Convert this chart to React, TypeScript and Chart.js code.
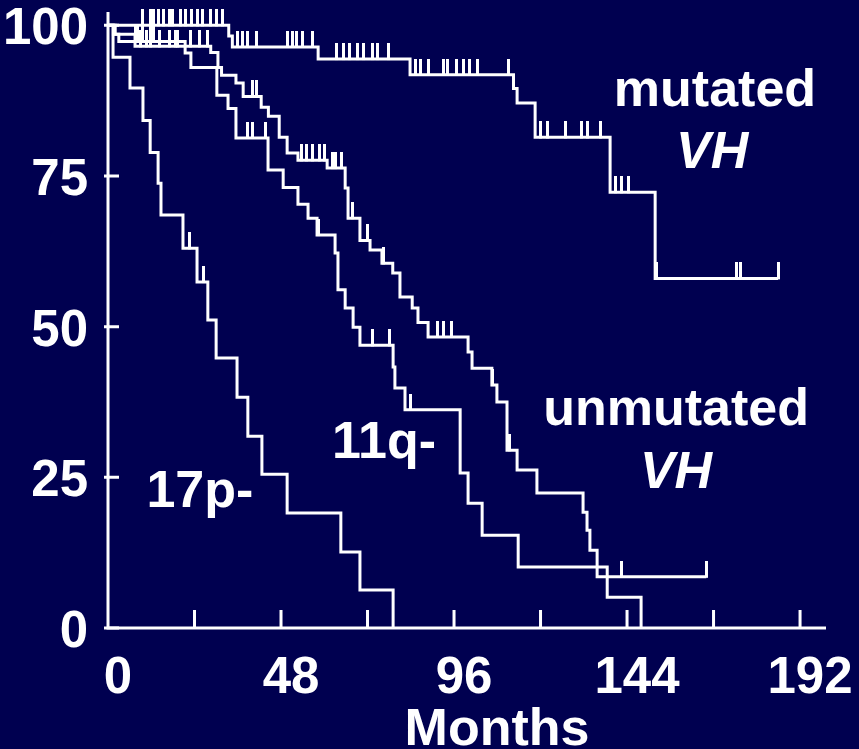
import { useEffect, useRef } from 'react';
import { Chart, registerables } from 'chart.js';

Chart.register(...registerables);

// ---- axis ticks ----
const xTickValues = [0, 24, 48, 72, 96, 120, 144, 168, 192];
const xTickLabels = ['0', '', '48', '', '96', '', '144', '', '192'];
const yTickValues = [0, 25, 50, 75, 100];
const yTickLabels = ['0', '25', '50', '75', '100'];
const xAxisTitle = 'Months';

// ---- mutated VH ----
const mutatedMonths = [0, 33.5, 34.5, 58.3, 83.8, 112.5, 113.5, 118.5, 139.3, 151.8, 185.9];
const mutatedSurvival = [100, 98.2, 96.4, 94.4, 91.8, 89.5, 87.1, 81.4, 72.3, 58.0, 58.0];
const mutatedCensored = [
  9.7, 11.7, 12.5, 13.9, 15.3, 17.2, 18.0, 20.0, 21.4, 23.3, 24.7, 26.1, 28.3, 30.2, 31.9,
  35.8, 37.2, 38.8, 41.3, 49.7, 51.1, 52.4, 54.1, 56.6,
  63.5, 65.2, 67.1, 69.1, 70.8, 73.3, 74.9, 77.7,
  85.2, 86.6, 88.8, 93.0, 94.1, 96.8, 98.5, 100.4, 102.4, 111.0,
  119.9, 121.8, 126.8, 131.5, 132.9, 136.5, 140.7, 142.6, 144.3,
  152.3, 174.5, 175.6, 185.9,
];

// ---- unmutated VH ----
const unmutatedMonths = [
  0, 2, 7.5, 28.5, 30.5, 31.5, 35.5, 37.5, 42.5, 44.5, 47.5, 49.7, 52.7, 60.8, 65.8, 66.6,
  69.9, 72.7, 76, 79, 81, 84.4, 86, 88.8, 99.9, 101, 106.5, 107.9, 110.7, 113.5, 119,
  131.8, 132.9, 133.7, 135.7, 166,
];
const unmutatedSurvival = [
  100, 98.5, 96.5, 95.5, 93, 91.7, 90.4, 88.2, 86.4, 84.9, 81.4, 78.8, 77.6, 76.3, 73, 68,
  64.3, 62.7, 60.5, 58.9, 54.9, 53.1, 50.7, 48.3, 45.8, 43.1, 40.3, 37.5, 29.5, 26.2, 22.4,
  19.2, 16.2, 12.9, 8.5, 8.5,
];
const unmutatedCensored = [
  8.9, 10.8, 11.7, 14.4, 17.2, 18.6, 19.4, 22.8, 25.5, 27.7, 40.2, 41.3, 53.8, 55.2, 56.6,
  58.8, 60.2, 62.2, 63.0, 64.9, 67.7, 71.9, 76.5, 91.3, 93.0, 95.4, 106.8, 111.5, 142.6, 166,
];

// ---- 11q- ----
const del11qMonths = [
  0, 1.5, 3, 21.4, 23, 30.2, 33.3, 35.5, 44.4, 48.6, 52.7, 55.5, 58, 63, 63.8, 65.8, 68,
  69.9, 79.1, 79.6, 82.4, 97.7, 99.9, 103.8, 113.8, 138.5, 147.9,
];
const del11qSurvival = [
  100, 98.5, 97.3, 95.4, 93, 88.4, 86.2, 81.3, 76, 73.1, 70.3, 68, 65.2, 62.2, 56.1, 53.1,
  49.9, 46.9, 43.3, 39.8, 36.2, 25.7, 20.7, 15.4, 10.1, 5.1, 0,
];
const del11qCensored = [7.5, 8.1, 9.7, 11.7, 12.5, 38.8, 40.2, 43.8, 58.5, 73.5, 78, 83.8];

// ---- 17p- ----
const del17pMonths = [
  0, 1.4, 6.1, 9.7, 11.7, 13.9, 14.7, 20.8, 24.7, 27.7, 30.0, 35.8, 38.8, 42.7, 49.7, 64.6,
  69.9, 79.1,
];
const del17pSurvival = [
  100, 94.7, 89.6, 84.2, 78.9, 73.8, 68.5, 63.0, 57.4, 51.1, 44.8, 38.3, 31.8, 25.5, 19.1,
  12.6, 6.3, 0,
];
const del17pCensored = [22.5, 26.6];

const seriesNames = ['mutated VH', 'unmutated VH', '11q-', '17p-'];

// ---- curve captions (text, data position) ----
const captions = [
  { text: 'mutated', x: 168.4, y: 86.6, italic: false },
  { text: 'VH', x: 167.6, y: 76.3, italic: true },
  { text: 'unmutated', x: 157.6, y: 33.7, italic: false },
  { text: 'VH', x: 157.6, y: 23.2, italic: true },
  { text: '11q-', x: 76.6, y: 28.2, italic: false },
  { text: '17p-', x: 25.5, y: 20.1, italic: false },
];

const BG = '#000050';
const FONT = '"Liberation Sans", Arial, Helvetica, sans-serif';

function survivalAt(months: number[], surv: number[], t: number) {
  let s = surv[0];
  for (let i = 0; i < months.length; i++) {
    if (months[i] <= t) s = surv[i];
    else break;
  }
  return s;
}

function makeTickImage() {
  const c = document.createElement('canvas');
  c.width = 3;
  c.height = 32;
  const g = c.getContext('2d')!;
  g.fillStyle = '#ffffff';
  g.fillRect(0, 0, 3, 17);
  return c;
}

const decorPlugin = {
  id: 'decor',
  afterDraw(chart: any) {
    const { ctx, chartArea, scales } = chart;
    const xs = scales.x;
    const ys = scales.y;
    ctx.save();
    ctx.strokeStyle = '#ffffff';
    ctx.lineWidth = 3;
    ctx.lineCap = 'butt';
    ctx.beginPath();
    ctx.moveTo(chartArea.left, chartArea.top);
    ctx.lineTo(chartArea.left, chartArea.bottom);
    ctx.lineTo(chartArea.right, chartArea.bottom);
    ctx.stroke();
    ctx.beginPath();
    xs.ticks.forEach((t: any) => {
      if (t.value === 0) return;
      const px = xs.getPixelForValue(t.value);
      ctx.moveTo(px, chartArea.bottom);
      ctx.lineTo(px, chartArea.bottom - 18);
    });
    ys.ticks.forEach((t: any) => {
      const py = ys.getPixelForValue(t.value);
      ctx.moveTo(chartArea.left - 4, py);
      ctx.lineTo(chartArea.left + 11, py);
    });
    ctx.stroke();

    ctx.fillStyle = '#ffffff';
    ctx.textAlign = 'center';
    ctx.textBaseline = 'alphabetic';
    captions.forEach((c) => {
      ctx.font = `${c.italic ? 'italic ' : ''}bold 52px ${FONT}`;
      ctx.fillText(c.text, xs.getPixelForValue(c.x), ys.getPixelForValue(c.y));
    });
    ctx.font = `bold 52px ${FONT}`;
    ctx.fillText(xAxisTitle, 497, 745);
    ctx.restore();
  },
};

export default function App() {
  const ref = useRef<HTMLCanvasElement | null>(null);

  useEffect(() => {
    const canvas = ref.current;
    if (!canvas) return;
    const tick = makeTickImage();

    const curves = [
      { m: mutatedMonths, s: mutatedSurvival, c: mutatedCensored },
      { m: unmutatedMonths, s: unmutatedSurvival, c: unmutatedCensored },
      { m: del11qMonths, s: del11qSurvival, c: del11qCensored },
      { m: del17pMonths, s: del17pSurvival, c: del17pCensored },
    ];

    const datasets: any[] = [];
    curves.forEach((cv, i) => {
      datasets.push({
        label: seriesNames[i],
        data: cv.m.map((t, k) => ({ x: t, y: cv.s[k] })),
        borderColor: '#ffffff',
        borderWidth: 3,
        pointRadius: 0,
        stepped: true,
        fill: false,
        clip: false,
      });
      datasets.push({
        label: seriesNames[i] + ' censored',
        data: cv.c.map((t) => ({ x: t, y: survivalAt(cv.m, cv.s, t) })),
        showLine: false,
        pointStyle: tick,
        pointRadius: 5,
        borderWidth: 0,
        clip: false,
      });
    });

    const tickFont = { family: FONT, size: 51, weight: 'bold' as const };

    const chart = new Chart(canvas, {
      type: 'line',
      data: { datasets },
      options: {
        animation: false,
        responsive: false,
        events: [],
        layout: { padding: { top: 12, right: 33, left: 0, bottom: 0 } },
        plugins: {
          legend: { display: false },
          tooltip: { enabled: false },
        },
        scales: {
          x: {
            type: 'linear',
            min: 0,
            max: 199.2,
            afterBuildTicks: (s: any) => {
              s.ticks = xTickValues.map((v) => ({ value: v }));
            },
            afterFit: (s: any) => {
              s.height = 121;
              s.paddingLeft = 0;
              s.paddingRight = 0;
            },
            grid: { display: false },
            border: { display: false },
            ticks: {
              color: '#ffffff',
              font: tickFont,
              padding: 12,
              labelOffset: 10,
              autoSkip: false,
              maxRotation: 0,
              callback: (_v: any, i: number) => xTickLabels[i],
            },
          },
          y: {
            type: 'linear',
            min: 0,
            max: 102.2,
            afterBuildTicks: (s: any) => {
              s.ticks = yTickValues.map((v) => ({ value: v }));
            },
            afterFit: (s: any) => {
              s.width = 108;
              s.paddingTop = 0;
              s.paddingBottom = 0;
            },
            grid: { display: false },
            border: { display: false },
            ticks: {
              color: '#ffffff',
              font: tickFont,
              padding: 12,
              labelOffset: 5,
              autoSkip: false,
              callback: (_v: any, i: number) => yTickLabels[i],
            },
          },
        },
      },
      plugins: [decorPlugin],
    });

    return () => chart.destroy();
  }, []);

  return (
    <div
      style={{
        position: 'fixed',
        left: 0,
        top: 0,
        width: 859,
        height: 749,
        background: BG,
        overflow: 'hidden',
      }}
    >
      <canvas ref={ref} width={859} height={749} style={{ display: 'block' }} />
    </div>
  );
}
